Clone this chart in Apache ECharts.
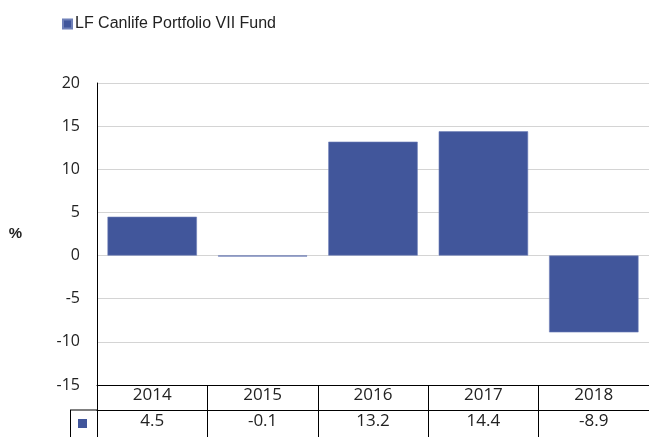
<!DOCTYPE html>
<html><head><meta charset="utf-8">
<script src="https://cdn.jsdelivr.net/npm/echarts@6/dist/echarts.min.js"></script>
<style>html,body{margin:0;padding:0;background:#fff}#c{width:649px;height:437px}</style>
</head><body><div id="c"></div>
<script>
const categories = ['2014', '2015', '2016', '2017', '2018'];
const values = [4.5, -0.1, 13.2, 14.4, -8.9];
const seriesName = 'LF Canlife Portfolio VII Fund';
const yTicks = { min: -15, max: 20, interval: 5 };
const barColor = '#41569b';

const chart = echarts.init(document.getElementById('c'));
const font = 'Liberation Sans, Arial, sans-serif';
const tableFont = 'Open Sans, DejaVu Sans, sans-serif';
chart.setOption({
  animation: false,
  legend: {
    left: 57, top: 11, icon: 'rect', itemWidth: 9, itemHeight: 9, itemGap: 10,
    textStyle: { fontFamily: font, fontSize: 16, color: '#222', padding: [0,0,0,-2] },
    data: [seriesName]
  },
  grid: { left: 97, right: 0, top: 83, bottom: 52, containLabel: false },
  xAxis: [{
    type: 'category', data: categories, position: 'bottom',
    axisLine: { onZero: false, lineStyle: { color: '#000', width: 1 } },
    axisTick: { show: true, alignWithLabel: false, length: 52, lineStyle: { color: '#000' } },
    axisLabel: { fontFamily: tableFont, fontSize: 17, color: '#222', margin: 2, verticalAlign: 'top' },
    splitLine: { show: false }
  }, {
    type: 'category', data: values.map(v => v.toFixed(1)), position: 'bottom', offset: 25,
    axisLine: { onZero: false, lineStyle: { color: '#000', width: 1 } },
    axisTick: { show: false },
    axisLabel: { fontFamily: tableFont, fontSize: 17, color: '#222', margin: 3, verticalAlign: 'top' },
    splitLine: { show: false }
  }],
  yAxis: {
    type: 'value', min: yTicks.min, max: yTicks.max, interval: yTicks.interval,
    name: '%', nameLocation: 'middle', nameGap: 75, nameRotate: 0,
    nameTextStyle: { fontFamily: font, fontSize: 15, fontWeight: 'bold', color: '#222' },
    axisLine: { show: true, lineStyle: { color: '#000' } },
    axisTick: { show: false },
    axisLabel: { fontFamily: tableFont, fontSize: 16, color: '#222', margin: 17 },
    splitLine: { show: true, lineStyle: { color: '#d4d4d4', width: 1 } }
  },
  series: [{
    name: seriesName, type: 'bar', data: values, xAxisIndex: 0,
    barCategoryGap: '19%',
    itemStyle: { color: barColor, borderColor: '#6f80b8', borderWidth: 0.6 }
  }]
});

// left box of the value row with series marker
const yRow = chart.convertToPixel({ yAxisIndex: 0 }, yTicks.min) + 25;
chart.setOption({
  graphic: [
    { type: 'line', shape: { x1: 70, y1: yRow, x2: 97, y2: yRow }, style: { stroke: '#000', lineWidth: 1 } },
    { type: 'line', shape: { x1: 70.5, y1: yRow, x2: 70.5, y2: 437 }, style: { stroke: '#000', lineWidth: 1 } },
    { type: 'rect', shape: { x: 78, y: yRow + 9, width: 9, height: 9 }, style: { fill: barColor } }
  ]
});
</script></body></html>
